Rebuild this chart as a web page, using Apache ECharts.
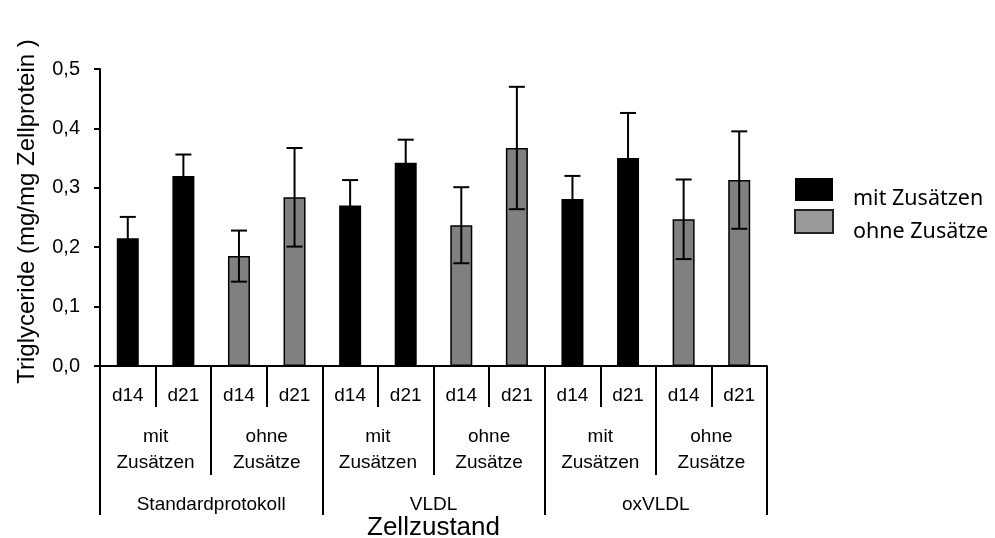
<!DOCTYPE html>
<html>
<head>
<meta charset="utf-8">
<script src="https://cdn.jsdelivr.net/npm/echarts@6/dist/echarts.min.js"></script>
<style>
  html, body { margin: 0; padding: 0; background: #fff; overflow: hidden; }
  #chart { width: 995px; height: 538px; }
</style>
</head>
<body>
<div id="chart"></div>
<script>
// ---- data ----
const dayLabels = ['d14', 'd21', 'd14', 'd21', 'd14', 'd21', 'd14', 'd21', 'd14', 'd21', 'd14', 'd21'];
const subgroupLabels = ['mit\nZusätzen', 'ohne\nZusätze', 'mit\nZusätzen', 'ohne\nZusätze', 'mit\nZusätzen', 'ohne\nZusätze'];
const groupLabels = ['Standardprotokoll', 'VLDL', 'oxVLDL'];
const seriesNames = ['mit Zusätzen', 'ohne Zusätze'];
const mitValues  = [0.215, 0.320, '-', '-', 0.270, 0.342, '-', '-', 0.281, 0.350, '-', '-'];
const ohneValues = ['-', '-', 0.185, 0.284, '-', '-', 0.237, 0.367, '-', '-', 0.247, 0.313];
const errValues  = [0.036, 0.036, 0.043, 0.083, 0.043, 0.039, 0.064, 0.103, 0.039, 0.076, 0.067, 0.082];
const yTicks = { min: 0, max: 0.5, interval: 0.1 };

// build error-bar data from the arrays
const errData = [];
for (let i = 0; i < dayLabels.length; i++) {
  const v = mitValues[i] !== '-' ? mitValues[i] : ohneValues[i];
  errData.push([i, v, errValues[i]]);
}

const FONT = '"Liberation Sans", Arial, sans-serif';
const chart = echarts.init(document.getElementById('chart'), null, { renderer: 'canvas', width: 995, height: 538 });

const option = {
  backgroundColor: '#fff',
  animation: false,
  grid: { left: 100, top: 69, width: 667, height: 297, containLabel: false, outerBoundsMode: 'none' },
  legend: [
    {
      // swatches
      orient: 'vertical',
      left: 794,
      top: 178,
      padding: 0,
      itemWidth: 38,
      itemHeight: 23,
      itemGap: 8,
      selectedMode: false,
      formatter: () => '',
      textStyle: { fontSize: 1 },
      data: [
        { name: seriesNames[0], icon: 'rect', itemStyle: { color: '#000', borderWidth: 0 } },
        { name: seriesNames[1], icon: 'rect', itemStyle: { color: '#999', borderColor: '#222', borderWidth: 2 } }
      ]
    },
    {
      // labels
      orient: 'vertical',
      left: 846,
      top: 186,
      padding: 0,
      itemWidth: 1,
      itemHeight: 23,
      itemGap: 8,
      selectedMode: false,
      textStyle: { fontFamily: '"Noto Sans", sans-serif', fontSize: 21.5, color: '#000' },
      data: [
        { name: seriesNames[0], icon: 'rect', itemStyle: { opacity: 0 } },
        { name: seriesNames[1], icon: 'rect', itemStyle: { opacity: 0 } }
      ]
    }
  ],
  xAxis: [
    {
      type: 'category',
      position: 'bottom',
      data: dayLabels,
      boundaryGap: true,
      axisLine: { show: true, lineStyle: { color: '#000', width: 2 } },
      axisTick: { show: true, interval: 0, length: 41, lineStyle: { color: '#000', width: 2 } },
      axisLabel: { interval: 0, margin: 20, color: '#000', fontFamily: FONT, fontSize: 19, lineHeight: 19 }
    },
    {
      type: 'category',
      position: 'bottom',
      data: subgroupLabels,
      boundaryGap: true,
      axisLine: { show: false },
      axisTick: { show: true, interval: 0, length: 109, lineStyle: { color: '#000', width: 2 } },
      axisLabel: { interval: 0, margin: 58, color: '#000', fontFamily: FONT, fontSize: 19, lineHeight: 26 }
    },
    {
      type: 'category',
      position: 'bottom',
      data: groupLabels,
      boundaryGap: true,
      axisLine: { show: false },
      axisTick: { show: true, interval: 0, length: 149, lineStyle: { color: '#000', width: 2 } },
      axisLabel: { interval: 0, margin: 129, color: '#000', fontFamily: FONT, fontSize: 19, lineHeight: 19 },
      name: 'Zellzustand',
      nameLocation: 'middle',
      nameGap: 149,
      nameMoveOverlap: false,
      nameTextStyle: { fontFamily: FONT, fontSize: 26, color: '#000' }
    }
  ],
  yAxis: {
    type: 'value',
    min: yTicks.min,
    max: yTicks.max,
    interval: yTicks.interval,
    name: 'Triglyceride (mg/mg Zellprotein )',
    nameLocation: 'middle',
    nameRotate: 90,
    nameGap: 61,
    nameMoveOverlap: false,
    nameTextStyle: { fontFamily: FONT, fontSize: 24, color: '#000', padding: [0, 0, 0, 12] },
    axisLine: { show: true, lineStyle: { color: '#000', width: 2 } },
    axisTick: { show: true, length: 6, lineStyle: { color: '#000', width: 2 } },
    axisLabel: {
      margin: 20, color: '#000', fontFamily: FONT, fontSize: 20,
      formatter: v => v.toFixed(1).replace('.', ',')
    },
    splitLine: { show: false }
  },
  series: [
    {
      name: seriesNames[0],
      type: 'bar',
      data: mitValues,
      barWidth: 22,
      barGap: '-100%',
      itemStyle: { color: '#000', borderColor: '#000', borderWidth: 2 },
      z: 2
    },
    {
      name: seriesNames[1],
      type: 'bar',
      data: ohneValues,
      barWidth: 22,
      barGap: '-100%',
      itemStyle: { color: '#808080', borderColor: '#000', borderWidth: 1.5 },
      z: 2
    },
    {
      name: 'error',
      type: 'custom',
      data: errData,
      z: 5,
      renderItem: function (params, api) {
        const idx = api.value(0);
        const v = api.value(1);
        const e = api.value(2);
        const x = api.coord([idx, 0])[0];
        const yTop = api.coord([idx, v + e])[1];
        const yBot = api.coord([idx, v - e])[1];
        const half = 8;
        const style = { stroke: '#000', lineWidth: 2, fill: null };
        return {
          type: 'group',
          children: [
            { type: 'line', shape: { x1: x, y1: yTop, x2: x, y2: yBot }, style: style },
            { type: 'line', shape: { x1: x - half, y1: yTop, x2: x + half, y2: yTop }, style: style },
            { type: 'line', shape: { x1: x - half, y1: yBot, x2: x + half, y2: yBot }, style: style }
          ]
        };
      }
    }
  ]
};
chart.setOption(option);
</script>
</body>
</html>
